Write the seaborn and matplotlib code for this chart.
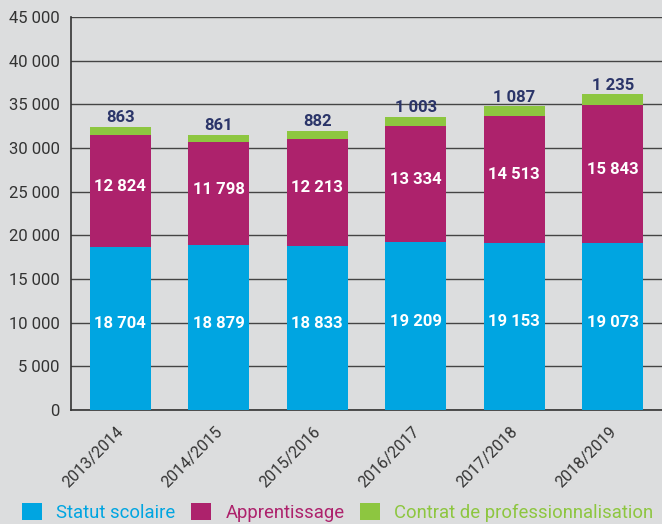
import numpy as np
import pandas as pd
import matplotlib
matplotlib.use('Agg')
import matplotlib.pyplot as plt
import matplotlib.transforms as mtransforms
from matplotlib.patches import Patch
from matplotlib.ticker import FuncFormatter, FixedLocator
import seaborn as sns

# ===================== données =====================
annees = ['2013/2014', '2014/2015', '2015/2016', '2016/2017', '2017/2018', '2018/2019']
statut_scolaire = [18704, 18879, 18833, 19209, 19153, 19073]
apprentissage = [12824, 11798, 12213, 13334, 14513, 15843]
contrat_pro = [863, 861, 882, 1003, 1087, 1235]

series = ['Statut scolaire', 'Apprentissage', 'Contrat de professionnalisation']
couleurs = ['#00A5E1', '#AD226C', '#8DC640']
fond = '#DCDDDE'


def espace_milliers(v, pos=None):
    return f"{int(round(v)):,}".replace(',', ' ')


# ===================== style =====================
sns.set_theme(style='white')
plt.rcParams['font.family'] = ['Roboto', 'DejaVu Sans']

df = pd.DataFrame({
    'annee': annees,
    'scolaire': statut_scolaire,
    'apprentissage': apprentissage,
    'contrat': contrat_pro,
})
df['cum1'] = df['scolaire']
df['cum2'] = df['scolaire'] + df['apprentissage']
df['cum3'] = df['cum2'] + df['contrat']

fig = plt.figure(figsize=(6.62, 5.24), dpi=100, facecolor=fond)
ax = fig.add_axes([0.1073, 0.2176, 0.8927, 0.75])
ax.set_facecolor(fond)

# barres empilées : on trace les cumuls du plus grand au plus petit
for col, c in zip(['cum3', 'cum2', 'cum1'], couleurs[::-1]):
    sns.barplot(data=df, x='annee', y=col, color=c, width=0.62,
                saturation=1, linewidth=0, edgecolor='none', ax=ax, zorder=3)

ax.set_xlim(-0.5, 5.5)
ax.set_ylim(0, 45000)
ax.set_yticks(np.arange(0, 45001, 5000))
ax.yaxis.set_major_formatter(FuncFormatter(espace_milliers))
ax.grid(axis='y', color='#444444', linewidth=1.0, zorder=0)
ax.set_axisbelow(True)
ax.set_xlabel('')
ax.set_ylabel('')

for s in ['top', 'right']:
    ax.spines[s].set_visible(False)
for s in ['left', 'bottom']:
    ax.spines[s].set_color('#333333')
    ax.spines[s].set_linewidth(1.2)

ax.tick_params(axis='y', length=0, labelsize=12, labelcolor='#333333', pad=8)
ax.tick_params(axis='x', which='major', length=0, labelsize=11.5, labelcolor='#333333', pad=10)
ax.set_xticks(range(len(annees)))
ax.set_xticklabels(annees, rotation=45, ha='right', rotation_mode='anchor')
decalage = mtransforms.ScaledTranslation(-4 / 100, 0, fig.dpi_scale_trans)
for lab in ax.get_xticklabels():
    lab.set_transform(lab.get_transform() + decalage)
ax.xaxis.set_minor_locator(FixedLocator(np.arange(0.5, 5.0, 1.0)))
ax.tick_params(axis='x', which='minor', direction='in', length=7,
               width=1, color='#333333')

# étiquettes de valeurs
for i, row in df.iterrows():
    ax.text(i, row['cum1'] / 2 + 500, espace_milliers(row['scolaire']),
            ha='center', va='center', color='white', fontsize=12,
            fontweight='bold', zorder=5)
    ax.text(i, (row['cum1'] + row['cum2']) / 2 + 500, espace_milliers(row['apprentissage']),
            ha='center', va='center', color='white', fontsize=12,
            fontweight='bold', zorder=5)
    ax.text(i, row['cum3'] + 200, espace_milliers(row['contrat']),
            ha='center', va='bottom', color='#2B3569', fontsize=12,
            fontweight='bold', zorder=5)

# légende
handles = [Patch(facecolor=c, edgecolor='none') for c in couleurs]
leg = fig.legend(handles, series, loc='lower left', bbox_to_anchor=(22 / 662, 0.004),
                 ncol=3, frameon=False, fontsize=13.3, handlelength=1.1,
                 handleheight=1.1, handletextpad=0.75, columnspacing=0.85,
                 borderpad=0, borderaxespad=0)
for t, c in zip(leg.get_texts(), couleurs):
    t.set_color(c)

fig.savefig('out.png', dpi=100, facecolor=fond)
